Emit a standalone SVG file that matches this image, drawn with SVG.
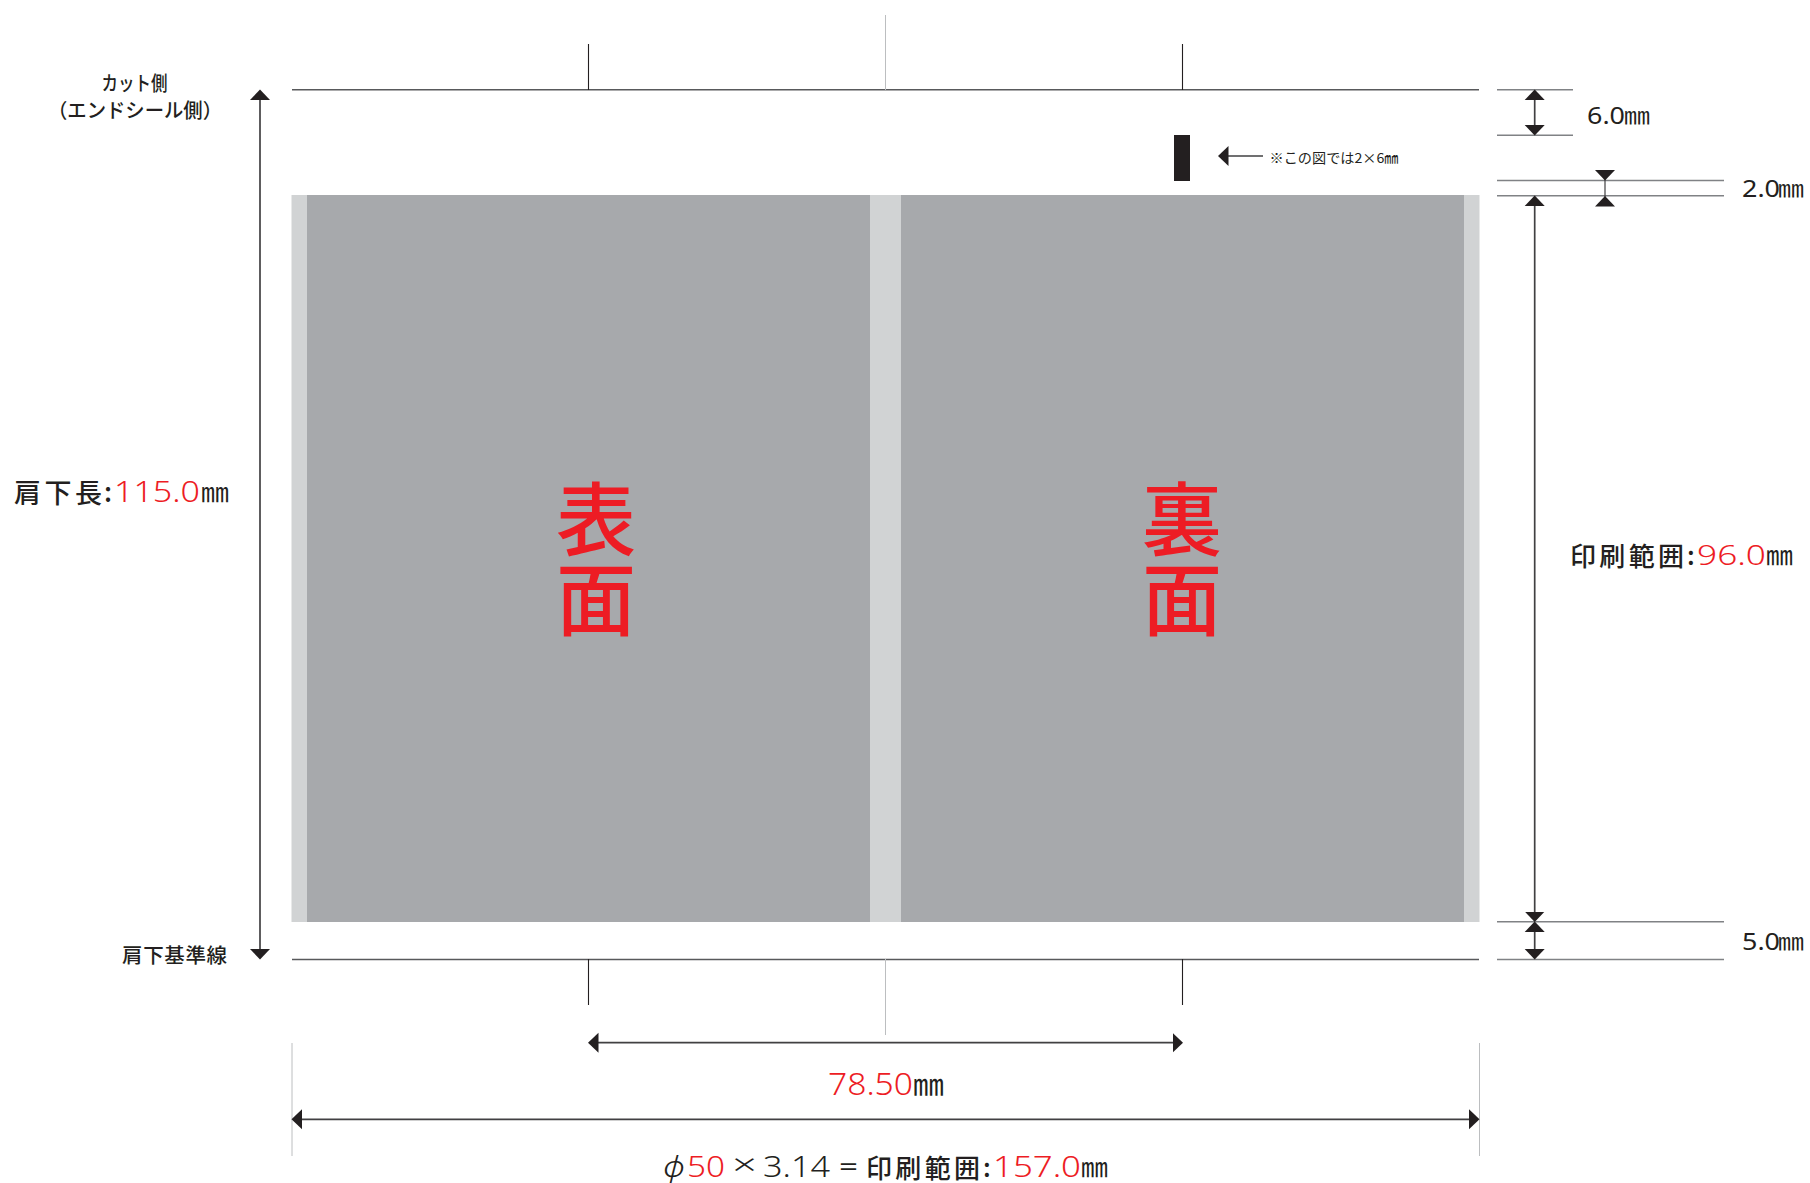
<svg xmlns="http://www.w3.org/2000/svg" width="1810" height="1183" viewBox="0 0 1810 1183">
<style>
text{font-family:"Noto Sans CJK JP","Noto Sans CJK SC",sans-serif;fill:#231f20}
.n{font-family:"Noto Sans","Liberation Sans",sans-serif;font-weight:400}
.l{font-family:"Noto Sans","Liberation Sans",sans-serif;font-weight:300}
.r{font-weight:300;fill:#ed1c24}
.big{fill:#ed1c24;font-size:80px;font-weight:500;writing-mode:vertical-rl}
.band{fill:#d1d3d4}
.panel{fill:#a7a9ac}
.rule{stroke:#58595b;stroke-width:1.5;fill:none}
.dim{stroke:#808285;stroke-width:1.5;fill:none}
.tick{stroke:#231f20;stroke-width:1.1;fill:none}
.fold{stroke:#bcbec0;stroke-width:1;fill:none}
.ar{stroke:#414042;stroke-width:1.7;fill:none;marker-start:url(#h);marker-end:url(#h)}
.ae{stroke:#414042;stroke-width:1.7;fill:none;marker-start:url(#h)}
.ai{stroke:#414042;stroke-width:1.2;fill:none;marker-start:url(#hr);marker-end:url(#hr)}
</style>
<defs>
<marker id="h" markerUnits="userSpaceOnUse" markerWidth="12" markerHeight="22" viewBox="0 0 12 22" refX="5" refY="11" orient="auto-start-reverse"><polygon points="0,1 10.5,11 0,21" fill="#231f20"/></marker>
<marker id="hr" markerUnits="userSpaceOnUse" markerWidth="12" markerHeight="22" viewBox="0 0 12 22" refX="5" refY="11" orient="auto-start-reverse"><polygon points="10.5,1 0,11 10.5,21" fill="#231f20"/></marker>
</defs>
<rect width="1810" height="1183" fill="#fff"/>
<g id="print-area">
<rect class="band" x="291.500" y="195" width="1188" height="727"/>
<rect class="panel" x="307" y="195" width="563" height="727"/>
<rect class="panel" x="901" y="195" width="563" height="727"/>
<rect x="1174" y="135" width="16" height="46" fill="#231f20"/>
</g>
<g id="connectors">
<path class="rule" d="M292 89.700H1479M292 959.500H1479"/>
<path class="tick" d="M588.500 44V90M1182.500 44V90M588.500 959V1005M1182.500 959V1005"/>
<path class="fold" d="M885.500 15V90M885.500 959V1035M292 1043V1156M1479.500 1043V1156"/>
<path class="dim" d="M1497 89.700H1573M1497 135.300H1573M1497 180.500H1724M1497 195.700H1724M1497 921.700H1724M1497 959.500H1724"/>
<path class="ar" d="M260 95V954"/>
<path class="ar" d="M1534.700 95V130"/>
<path class="ar" d="M1534.700 201V916.500"/>
<path class="ar" d="M1534.700 927V954"/>
<path class="ai" d="M1605 175.500V201"/>
<path class="ae" d="M1223.500 156H1263"/>
<path class="ar" d="M593.500 1042.700H1177.500"/>
<path class="ar" d="M297 1119.300H1474"/>
</g>
<g id="label-cut">
<text x="101.500" y="91" font-size="20" font-weight="500" textLength="66" lengthAdjust="spacingAndGlyphs">カット側</text>
<text x="48" y="118" font-size="20" font-weight="500" textLength="174" lengthAdjust="spacingAndGlyphs">（エンドシール側）</text>
</g>
<g id="label-shoulder">
<text x="122" y="963" font-size="20.500" font-weight="500" textLength="105">肩下基準線</text>
</g>
<g id="label-length">
<text x="14" y="503" font-size="27" font-weight="500" textLength="88">肩下長</text>
<text x="104" y="502" font-size="27" font-weight="500">:</text>
<text class="n r" x="114" y="502" font-size="30" textLength="86" lengthAdjust="spacingAndGlyphs">115.0</text>
<text x="201" y="502" font-size="27" textLength="28" lengthAdjust="spacingAndGlyphs">㎜</text>
</g>
<g id="face-front">
<text class="big" x="596" y="479">表面</text>
</g>
<g id="face-back">
<text class="big" x="1182" y="479">裏面</text>
</g>
<g id="label-note">
<text x="1269.500" y="163" font-size="13.500" textLength="129" lengthAdjust="spacingAndGlyphs">※この図では2×6㎜</text>
</g>
<g id="label-6">
<text class="n" x="1587" y="124" font-size="24" textLength="38" lengthAdjust="spacingAndGlyphs">6.0</text>
<text x="1624" y="124" font-size="24" textLength="26" lengthAdjust="spacingAndGlyphs">㎜</text>
</g>
<g id="label-2">
<text class="n" x="1742" y="197" font-size="24" textLength="38" lengthAdjust="spacingAndGlyphs">2.0</text>
<text x="1778" y="197" font-size="24" textLength="26" lengthAdjust="spacingAndGlyphs">㎜</text>
</g>
<g id="label-5">
<text class="n" x="1742" y="950" font-size="24" textLength="38" lengthAdjust="spacingAndGlyphs">5.0</text>
<text x="1778" y="950" font-size="24" textLength="26" lengthAdjust="spacingAndGlyphs">㎜</text>
</g>
<g id="label-96">
<text x="1570" y="566" font-size="26" font-weight="500" textLength="114">印刷範囲</text>
<text x="1687" y="565" font-size="26" font-weight="500">:</text>
<text class="n r" x="1697" y="565" font-size="28" textLength="69" lengthAdjust="spacingAndGlyphs">96.0</text>
<text x="1766" y="565" font-size="26" textLength="27" lengthAdjust="spacingAndGlyphs">㎜</text>
</g>
<g id="label-7850">
<text class="n r" x="828" y="1095" font-size="32" textLength="85" lengthAdjust="spacingAndGlyphs">78.50</text>
<text x="913" y="1095" font-size="30" textLength="31" lengthAdjust="spacingAndGlyphs">㎜</text>
</g>
<g id="label-157">
<text class="l" x="663" y="1177" font-size="29" font-style="italic" textLength="22" lengthAdjust="spacingAndGlyphs">ϕ</text>
<text class="n r" x="687" y="1177" font-size="29" textLength="38" lengthAdjust="spacingAndGlyphs">50</text>
<text class="l" x="732" y="1175" font-size="30" textLength="25" lengthAdjust="spacingAndGlyphs">×</text>
<text class="l" x="763" y="1177" font-size="29" textLength="67" lengthAdjust="spacingAndGlyphs">3.14</text>
<text class="n" x="839" y="1175" font-size="24" textLength="19" lengthAdjust="spacingAndGlyphs">=</text>
<text x="866" y="1178" font-size="26" font-weight="500" textLength="114">印刷範囲</text>
<text x="983" y="1177" font-size="26" font-weight="500">:</text>
<text class="n r" x="993" y="1177" font-size="29" textLength="88" lengthAdjust="spacingAndGlyphs">157.0</text>
<text x="1081" y="1177" font-size="26" textLength="27" lengthAdjust="spacingAndGlyphs">㎜</text>
</g>
</svg>
